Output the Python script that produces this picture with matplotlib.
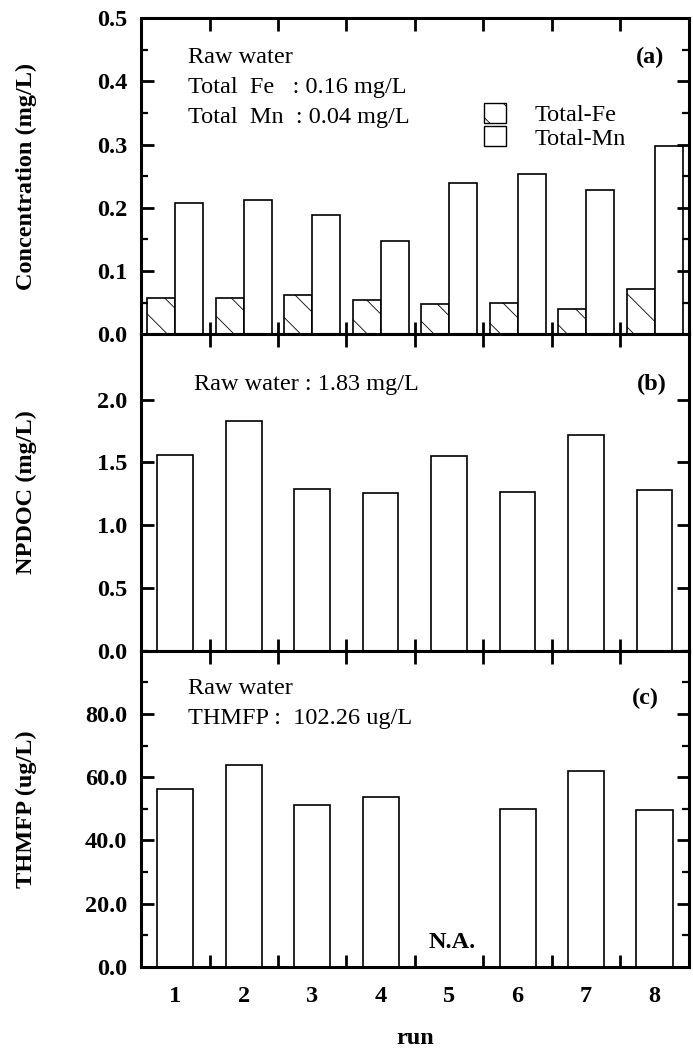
import numpy as np
import matplotlib
matplotlib.use("Agg")
import matplotlib.pyplot as plt
from matplotlib.ticker import MultipleLocator, FixedLocator, FormatStrFormatter
from matplotlib.patches import Patch

plt.rcParams['font.family'] = ['Liberation Serif', 'DejaVu Serif']
plt.rcParams['hatch.linewidth'] = 0.6
plt.rcParams['hatch.color'] = '#555555'

# data
runs = np.arange(1, 9)
total_fe = [0.058, 0.057, 0.062, 0.054, 0.048, 0.050, 0.040, 0.071]
total_mn = [0.208, 0.213, 0.188, 0.147, 0.240, 0.254, 0.228, 0.298]
npdoc = [1.56, 1.83, 1.29, 1.26, 1.55, 1.265, 1.715, 1.28]
thmfp = [56.3, 63.9, 51.3, 53.8, np.nan, 50.0, 62.0, 49.7]
run_labels = ['1', '2', '3', '4', '5', '6', '7', '8']

TXT = 17.5
TICK = 17.5

fig, (ax1, ax2, ax3) = plt.subplots(3, 1, sharex=True, figsize=(6.93, 10.49), dpi=100,
                                    gridspec_kw={'hspace': 0})
fig.subplots_adjust(left=0.2035, right=0.994, top=0.9828, bottom=0.0782)

bar_kw = dict(edgecolor='black', linewidth=1.2, facecolor='white')

# (a) Fe / Mn
ax1.bar(runs - 0.205, total_fe, width=0.41, hatch='\\', label='Total-Fe', **bar_kw)
ax1.bar(runs + 0.205, total_mn, width=0.41, label='Total-Mn', **bar_kw)
ax1.set_ylim(0, 0.5)
ax1.yaxis.set_major_locator(MultipleLocator(0.1))
ax1.yaxis.set_minor_locator(MultipleLocator(0.05))
ax1.yaxis.set_major_formatter(FormatStrFormatter('%.1f'))
ax1.set_ylabel('Concentration (mg/L)')

ax1.text(0.086, 0.876, 'Raw water', transform=ax1.transAxes, fontsize=TXT, va='center')
ax1.text(0.086, 0.78, 'Total  Fe   : 0.16 mg/L', transform=ax1.transAxes, fontsize=TXT, va='center')
ax1.text(0.086, 0.686, 'Total  Mn  : 0.04 mg/L', transform=ax1.transAxes, fontsize=TXT, va='center')
ax1.text(0.929, 0.876, '(a)', transform=ax1.transAxes, fontsize=TXT, fontweight='bold',
         ha='center', va='center')

handles = [Patch(facecolor='white', edgecolor='black', hatch='\\', linewidth=1.0),
           Patch(facecolor='white', edgecolor='black', linewidth=1.0)]
ax1.legend(handles, ['Total-Fe', 'Total-Mn'], loc='upper left', bbox_to_anchor=(0.626, 0.732),
           frameon=False, fontsize=TXT, borderaxespad=0, borderpad=0, labelspacing=0.0,
           handlelength=0.9, handleheight=0.9, handletextpad=1.2)

# (b) NPDOC
ax2.bar(runs, npdoc, width=0.52, **bar_kw)
ax2.set_ylim(0, 2.52)
ax2.yaxis.set_major_locator(FixedLocator([0.0, 0.5, 1.0, 1.5, 2.0]))
ax2.yaxis.set_major_formatter(FormatStrFormatter('%.1f'))
ax2.set_ylabel('NPDOC (mg/L)')
ax2.text(0.097, 0.843, 'Raw water : 1.83 mg/L', transform=ax2.transAxes, fontsize=TXT, va='center')
ax2.text(0.932, 0.843, '(b)', transform=ax2.transAxes, fontsize=TXT, fontweight='bold',
         ha='center', va='center')

# (c) THMFP, run 5 not analysed
thm = np.array(thmfp)
ok = ~np.isnan(thm)
ax3.bar(runs[ok], thm[ok], width=0.53, **bar_kw)
ax3.set_ylim(0, 100)
ax3.yaxis.set_major_locator(FixedLocator([0, 20, 40, 60, 80]))
ax3.yaxis.set_minor_locator(MultipleLocator(10))
ax3.yaxis.set_major_formatter(FormatStrFormatter('%.1f'))
ax3.set_ylabel('THMFP (ug/L)')
ax3.text(0.086, 0.879, 'Raw water', transform=ax3.transAxes, fontsize=TXT, va='center')
ax3.text(0.086, 0.784, 'THMFP :  102.26 ug/L', transform=ax3.transAxes, fontsize=TXT, va='center')
ax3.text(0.92, 0.848, '(c)', transform=ax3.transAxes, fontsize=TXT, fontweight='bold',
         ha='center', va='center')
ax3.text(5.04, 7.6, 'N.A.', fontsize=TXT, fontweight='bold', ha='center', va='center')

ax3.set_xlim(0.5, 8.5)
ax3.set_xticks(runs)
ax3.set_xticklabels(run_labels)
ax3.xaxis.set_minor_locator(FixedLocator(runs[:-1] + 0.5))
ax3.set_xlabel('run', fontsize=TXT, fontweight='bold', labelpad=15)

for ax in (ax1, ax2, ax3):
    for s in ax.spines.values():
        s.set_linewidth(2.2)
    ax.tick_params(axis='y', which='major', direction='in', length=9, width=2,
                   left=True, right=True, labelsize=TICK, pad=10)
    ax.tick_params(axis='y', which='minor', direction='in', length=5, width=1.6,
                   left=True, right=True)
    ax.tick_params(axis='x', which='major', length=0, labelsize=TICK, pad=14)
    ax.tick_params(axis='x', which='minor', direction='in', length=9, width=2,
                   top=True, bottom=True)
    for lab in ax.get_yticklabels() + ax.get_xticklabels():
        lab.set_fontweight('bold')
    ax.yaxis.label.set_fontsize(TXT)
    ax.yaxis.label.set_fontweight('bold')
    ax.yaxis.set_label_coords(-0.19, 0.5)

fig.savefig('out.png', dpi=100)
